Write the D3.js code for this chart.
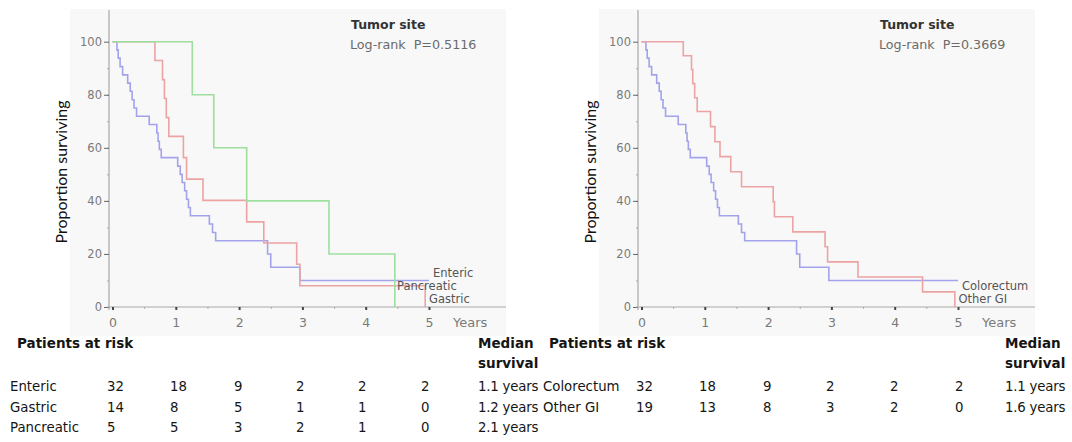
<!doctype html>
<html lang="en">
<head>
  <meta charset="utf-8">
  <title>Survival by tumor site</title>
  <script type="text/javascript" src="https://cdnjs.cloudflare.com/ajax/libs/d3/7.8.5/d3.min.js"></script>
  <style>
    body { margin: 0; background: #fff; }
    svg text { font-family: "DejaVu Sans", sans-serif; }
    .tbl { font-family: Lato, "Open Sans", sans-serif; font-size: 13.3px; fill: #151515; }
  </style>
</head>
<body>
  <svg width="1072" height="442" id="svg"></svg>
</body>

<script type="text/javascript">

	// x ticks (years) and y ticks (% surviving)
	var years = [0, 1, 2, 3, 4, 5];
	var pct_ticks = [0, 20, 40, 60, 80, 100];

	// Kaplan-Meier steps: time (years) and proportion surviving (%)
	var enteric_t = [0, 0.07, 0.09, 0.12, 0.16, 0.24, 0.28, 0.31, 0.34, 0.38, 0.58, 0.70, 0.72, 0.74, 0.77, 1.03, 1.07, 1.10, 1.14, 1.17, 1.20, 1.23, 1.53, 1.58, 1.63, 2.45, 2.50, 2.96, 5.0];
	var enteric_s = [100, 96.9, 93.8, 90.6, 87.5, 84.4, 81.3, 78.1, 75.0, 71.9, 68.8, 65.6, 62.5, 59.4, 56.3, 53.1, 50.0, 46.9, 43.8, 40.6, 37.5, 34.4, 31.3, 28.1, 25.0, 20.0, 15.0, 10.0, 10.0];

	var gastric_t = [0, 0.67, 0.79, 0.82, 0.85, 0.89, 1.12, 1.17, 1.43, 2.12, 2.39, 2.91, 2.96, 4.94];
	var gastric_s = [100, 92.9, 85.7, 78.6, 71.4, 64.3, 56.3, 48.2, 40.2, 32.1, 24.1, 16.1, 8.0, 0];

	var pancreatic_t = [0, 1.26, 1.60, 2.12, 3.42, 4.46];
	var pancreatic_s = [100, 80, 60, 40, 20, 0];

	var colorectum_t = [0, 0.07, 0.09, 0.12, 0.16, 0.24, 0.28, 0.31, 0.34, 0.38, 0.58, 0.70, 0.72, 0.74, 0.77, 1.03, 1.07, 1.10, 1.14, 1.17, 1.20, 1.23, 1.53, 1.58, 1.63, 2.45, 2.50, 2.96, 5.0];
	var colorectum_s = [100, 96.9, 93.8, 90.6, 87.5, 84.4, 81.3, 78.1, 75.0, 71.9, 68.8, 65.6, 62.5, 59.4, 56.3, 53.1, 50.0, 46.9, 43.8, 40.6, 37.5, 34.4, 31.3, 28.1, 25.0, 20.0, 15.0, 10.0, 10.0];

	var othergi_t = [0, 0.66, 0.79, 0.81, 0.84, 0.88, 1.09, 1.16, 1.24, 1.41, 1.58, 2.08, 2.10, 2.39, 2.90, 2.94, 3.42, 4.44, 4.95];
	var othergi_s = [100, 94.7, 89.5, 84.2, 78.9, 73.7, 68.0, 62.3, 56.7, 51.0, 45.3, 39.7, 34.0, 28.3, 22.7, 17.0, 11.3, 5.7, 0];

	// patients at risk at 0..5 years, and median survival
	var left_groups = ['Enteric', 'Gastric', 'Pancreatic'];
	var left_risk = [[32, 18, 9, 2, 2, 2], [14, 8, 5, 1, 1, 0], [5, 5, 3, 2, 1, 0]];
	var left_median = ['1.1 years', '1.2 years', '2.1 years'];
	var left_p = 'Log-rank  P=0.5116';

	var right_groups = ['Colorectum', 'Other GI'];
	var right_risk = [[32, 18, 9, 2, 2, 2], [19, 13, 8, 3, 2, 0]];
	var right_median = ['1.1 years', '1.6 years'];
	var right_p = 'Log-rank  P=0.3669';

	var svg = d3.select('#svg');

	function zip(t, s) {
		return t.map(function(d, i) { return {t: d, s: s[i]}; });
	}

	function drawPanel(ox, series, p_text, table) {

		var g = svg.append('g').attr('transform', 'translate(' + ox + ',0)');

		var x = d3.scaleLinear().domain([0, 5]).range([112.5, 429]);
		var y = d3.scaleLinear().domain([0, 100]).range([307, 41.7]);

		g.append('rect')
			.attr('x', 70).attr('y', 9)
			.attr('width', 436).attr('height', 327)
			.attr('fill', '#f8f8f8');

		// y axis
		g.append('line')
			.attr('x1', 109).attr('x2', 109)
			.attr('y1', 10).attr('y2', 310)
			.attr('stroke', '#a8a8a8').attr('stroke-width', 1.2);

		g.append('g')
			.attr('transform', 'translate(109,0)')
			.call(d3.axisLeft(y).tickValues(d3.range(10, 100, 10)).tickSize(2).tickFormat(''))
			.call(function(a) {
				a.select('.domain').remove();
				a.selectAll('line').attr('stroke', '#aaa');
			});

		var ya = g.append('g')
			.attr('transform', 'translate(109,0)')
			.call(d3.axisLeft(y).tickValues(pct_ticks).tickSize(5).tickPadding(2));
		ya.select('.domain').remove();
		ya.selectAll('line').attr('stroke', '#666');
		ya.selectAll('text')
			.attr('fill', '#7a7a7a')
			.style('font-size', '11.5px')
			.style('font-family', '"DejaVu Sans", sans-serif');

		// x axis
		g.append('line')
			.attr('x1', 107).attr('x2', 506)
			.attr('y1', y(0)).attr('y2', y(0))
			.attr('stroke', '#a8a8a8').attr('stroke-width', 1.2);

		g.append('g')
			.attr('transform', 'translate(0,' + y(0) + ')')
			.call(d3.axisBottom(x).tickValues([0.5, 1.5, 2.5, 3.5, 4.5]).tickSize(2).tickFormat(''))
			.call(function(a) {
				a.select('.domain').remove();
				a.selectAll('line').attr('stroke', '#aaa');
			});

		var xa = g.append('g')
			.attr('transform', 'translate(0,' + y(0) + ')')
			.call(d3.axisBottom(x).tickValues(years).tickFormat(d3.format('d')).tickSize(3).tickPadding(8));
		xa.select('.domain').remove();
		xa.selectAll('line').attr('stroke', '#444').attr('stroke-width', 2);
		xa.selectAll('text')
			.attr('fill', '#7a7a7a')
			.style('font-size', '12.5px')
			.style('font-family', '"DejaVu Sans", sans-serif');

		g.append('text')
			.text('Years')
			.attr('x', 453).attr('y', 327)
			.attr('fill', '#7a7a7a')
			.style('font-size', '13px');

		g.append('text')
			.text('Proportion surviving')
			.attr('transform', 'translate(67,172) rotate(-90)')
			.attr('text-anchor', 'middle')
			.style('font-family', 'Lato, sans-serif')
			.style('font-size', '16px')
			.attr('fill', '#111');

		g.append('text')
			.text('Tumor site')
			.attr('x', 351).attr('y', 29)
			.attr('fill', '#333')
			.style('font-weight', 'bold')
			.style('font-size', '12.5px');

		g.append('text')
			.text(p_text)
			.attr('x', 350).attr('y', 49)
			.attr('fill', '#6a6a6a')
			.style('font-size', '12.7px')
			.style('white-space', 'pre');

		var line = d3.line()
			.x(function(d) { return x(d.t); })
			.y(function(d) { return y(d.s); })
			.curve(d3.curveStepAfter);

		g.append('g')
			.selectAll('path')
			.data(series)
			.enter()
			.append('path')
			.attr('d', function(d) { return line(d.pts); })
			.attr('fill', 'none')
			.attr('stroke', function(d) { return d.color; })
			.attr('stroke-width', 1.6);

		g.append('g')
			.selectAll('text')
			.data(series)
			.enter()
			.append('text')
			.text(function(d) { return d.name; })
			.attr('x', function(d) { return d.lx; })
			.attr('y', function(d) { return d.ly; })
			.attr('fill', '#555')
			.style('font-size', '11.5px');

		// patients at risk table
		var t = svg.append('g').attr('class', 'tbl');

		t.append('text')
			.text('Patients at risk')
			.attr('x', table.hx).attr('y', 348)
			.style('font-size', '13.5px')
			.style('font-weight', 'bold');

		t.append('text')
			.text('Median')
			.attr('x', table.mx).attr('y', 348)
			.style('font-size', '13.5px')
			.style('font-weight', 'bold');

		t.append('text')
			.text('survival')
			.attr('x', table.mx).attr('y', 368)
			.style('font-size', '13.5px')
			.style('font-weight', 'bold');

		var rows = t.selectAll('g.row')
			.data(table.groups)
			.enter()
			.append('g')
			.attr('class', 'row')
			.attr('transform', function(d, i) { return 'translate(0,' + (391 + i * 20.5) + ')'; });

		rows.append('text')
			.text(function(d) { return d; })
			.attr('x', table.nx);

		rows.selectAll('text.n')
			.data(function(d, i) { return table.risk[i]; })
			.enter()
			.append('text')
			.attr('class', 'n')
			.text(function(d) { return d; })
			.attr('x', function(d, j) { return table.cols[j]; });

		rows.append('text')
			.text(function(d, i) { return table.median[i]; })
			.attr('x', table.mx)
			.style('letter-spacing', '-0.2px');
	}

	drawPanel(0, [
		{name: 'Enteric', color: '#a3a3ec', pts: zip(enteric_t, enteric_s), lx: 433, ly: 277},
		{name: 'Gastric', color: '#eca3a3', pts: zip(gastric_t, gastric_s), lx: 429, ly: 302.5},
		{name: 'Pancreatic', color: '#9edf9e', pts: zip(pancreatic_t, pancreatic_s), lx: 397, ly: 289.5}
	], left_p, {
		groups: left_groups, risk: left_risk, median: left_median,
		hx: 17, nx: 10, mx: 478, cols: [107, 170, 234, 296, 358, 421]
	});

	drawPanel(529, [
		{name: 'Colorectum', color: '#a3a3ec', pts: zip(colorectum_t, colorectum_s), lx: 433, ly: 289.5},
		{name: 'Other GI', color: '#eca3a3', pts: zip(othergi_t, othergi_s), lx: 429.5, ly: 302.5}
	], right_p, {
		groups: right_groups, risk: right_risk, median: right_median,
		hx: 549, nx: 543, mx: 1005, cols: [636, 699, 763, 826, 890, 955]
	});

</script>
</html>
